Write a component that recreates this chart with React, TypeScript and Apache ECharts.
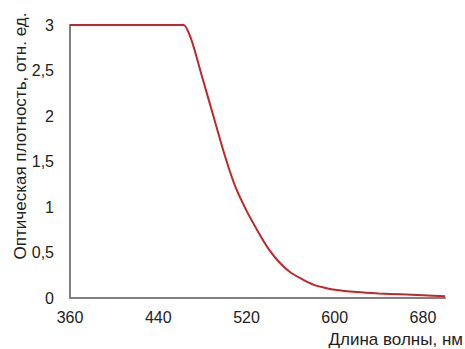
import React, { useEffect, useRef } from "react";
import * as echarts from "echarts";

const wavelengths = [360, 380, 400, 420, 440, 460, 463, 470, 480, 490, 500, 510, 520, 530, 540, 550, 560, 570, 580, 590, 600, 620, 640, 660, 680, 700];
const density = [3, 3, 3, 3, 3, 3, 3, 2.84, 2.42, 2.0, 1.58, 1.22, 0.96, 0.74, 0.54, 0.39, 0.28, 0.21, 0.15, 0.115, 0.09, 0.065, 0.05, 0.04, 0.03, 0.02];
const xTicks = [360, 440, 520, 600, 680];
const yName = "Оптическая плотность, отн. ед.";
const xName = "Длина волны, нм";

export default function App() {
  const ref = useRef<HTMLDivElement>(null);
  useEffect(() => {
    if (!ref.current) return;
    document.body.style.margin = "0";
    const chart = echarts.init(ref.current, null, { renderer: "svg" });
    const font = "Liberation Sans, Arial, sans-serif";
    chart.setOption({
      animation: false,
      grid: { left: 70, right: 20, top: 25, bottom: 51 },
      xAxis: {
        type: "value",
        min: 360,
        max: 700,
        interval: 80,
        axisLine: { show: true, lineStyle: { color: "#808080", width: 2 } },
        axisTick: { show: false },
        splitLine: { show: false },
        axisLabel: {
          color: "#222",
          fontSize: 16,
          fontFamily: font,
          margin: 11,
          showMaxLabel: false,
          formatter: (v: number) => (xTicks.includes(v) ? String(v) : ""),
        },
      },
      yAxis: {
        type: "value",
        min: 0,
        max: 3,
        interval: 0.5,
        axisLine: { show: true, lineStyle: { color: "#808080", width: 2 } },
        axisTick: { show: false },
        splitLine: { show: false },
        axisLabel: {
          color: "#222",
          fontSize: 16,
          fontFamily: font,
          margin: 16,
          formatter: (v: number) => String(v).replace(".", ","),
        },
      },
      graphic: [
        {
          type: "text",
          x: 20,
          y: 136,
          rotation: Math.PI / 2,
          style: {
            text: yName,
            fill: "#222",
            fontSize: 17,
            fontFamily: font,
            textAlign: "center",
            textVerticalAlign: "middle",
          },
        },
        {
          type: "text",
          x: 463,
          y: 339,
          style: {
            text: xName,
            fill: "#222",
            fontSize: 17,
            fontFamily: font,
            textAlign: "right",
            textVerticalAlign: "middle",
          },
        },
      ],
      series: [
        {
          type: "line",
          data: wavelengths.map((w, i) => [w, density[i]]),
          showSymbol: false,
          smooth: 0.25,
          lineStyle: { color: "#c0272d", width: 2 },
        },
      ],
    });
    return () => chart.dispose();
  }, []);
  return <div ref={ref} style={{ width: 465, height: 349 }} />;
}
